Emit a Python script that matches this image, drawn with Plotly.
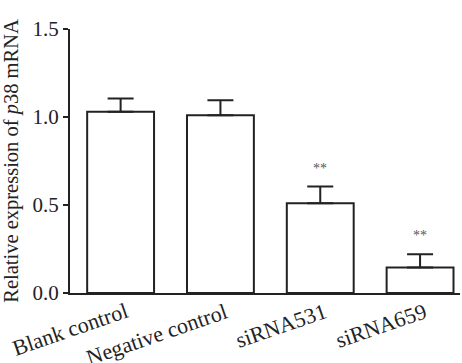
import plotly.graph_objects as go

categories = ["Blank control", "Negative control", "siRNA531", "siRNA659"]
means = [1.03, 1.01, 0.51, 0.145]
errors = [0.075, 0.085, 0.095, 0.075]
marks = ["", "", "**", "**"]

FONT = "Liberation Serif, Times New Roman, serif"
INK = "#222222"

fig = go.Figure()
fig.add_trace(go.Bar(
    x=categories, y=means, width=0.67,
    marker=dict(color="white", line=dict(color=INK, width=2)),
    error_y=dict(type="data", array=errors, symmetric=False, arrayminus=[0]*4,
                 color=INK, thickness=2, width=13),
    showlegend=False, hoverinfo="skip",
))

for c, m, e, s in zip(categories, means, errors, marks):
    if s:
        fig.add_annotation(x=c, y=m + e, text=s, showarrow=False, yanchor="bottom",
                           yshift=9, font=dict(family=FONT, size=14, color="#555555"))

# category labels as rotated annotations placed just under the axis
for c in categories:
    fig.add_annotation(x=c, y=0, xref="x", yref="paper", text=c, showarrow=False,
                       textangle=-19, xanchor="right", yanchor="top",
                       xshift=11, yshift=-4, borderpad=0,
                       font=dict(family=FONT, size=22, color=INK))

fig.update_layout(
    width=462, height=363,
    margin=dict(l=70, r=2, t=29, b=70),
    paper_bgcolor="white", plot_bgcolor="white",
    font=dict(family=FONT, size=21, color=INK),
    bargap=0.33,
    xaxis=dict(range=[-0.507, 3.40], showline=True, linecolor=INK, linewidth=2,
               ticks="", showticklabels=False, showgrid=False,
               zeroline=False, automargin=False),
    yaxis=dict(range=[0, 1.5], tickvals=[0, 0.5, 1.0, 1.5], ticktext=["0.0", "0.5", "1.0", "1.5"],
               showline=True, linecolor=INK, linewidth=2, ticks="outside", ticklen=5,
               tickwidth=2, tickcolor=INK, showgrid=False, zeroline=False,
               tickfont=dict(size=21), automargin=False,
               title=dict(text="Relative expression of <i>p</i>38 mRNA", font=dict(size=20.5), standoff=8)),
)

fig.write_html("out.html", config={"displayModeBar": False},
               post_script="document.body.style.margin='0';document.body.style.padding='0';")
